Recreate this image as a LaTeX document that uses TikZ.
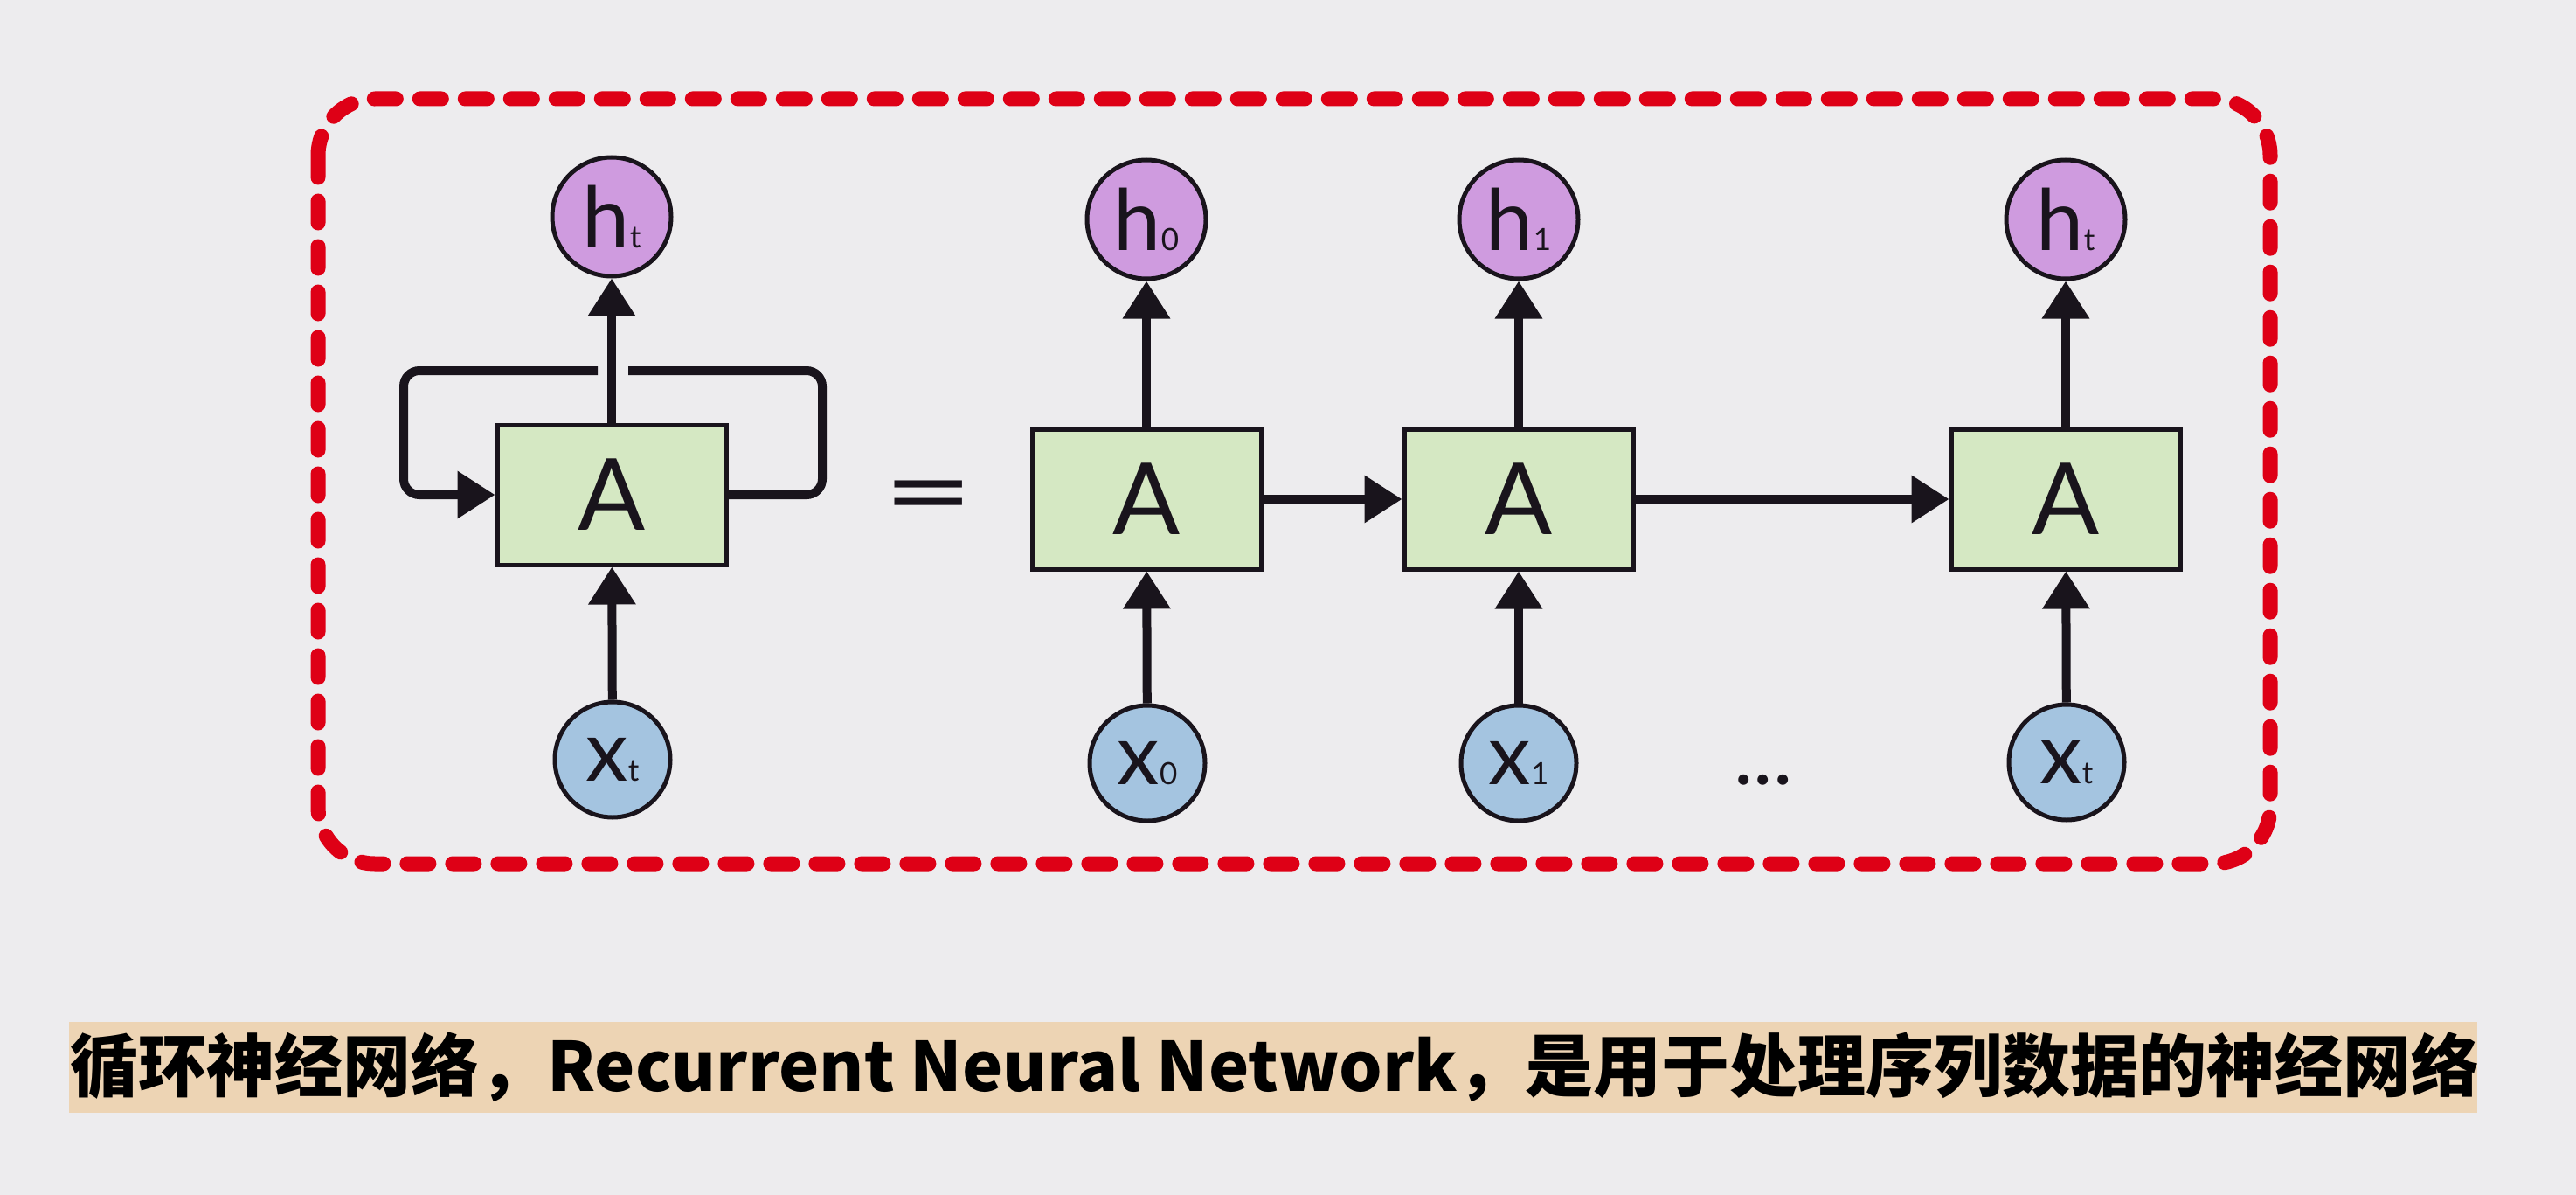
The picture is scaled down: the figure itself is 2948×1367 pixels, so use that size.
\documentclass[tikz,border=0pt]{standalone}
\usepackage{fontspec}
\setmainfont{Lato}
\newfontfamily\cjk{Noto Sans CJK SC}
\usetikzlibrary{arrows.meta,calc}
\definecolor{bgc}{RGB}{237,236,238}
\definecolor{hpurple}{RGB}{207,155,223}
\definecolor{xblue}{RGB}{164,196,224}
\definecolor{agreen}{RGB}{213,232,195}
\definecolor{dashred}{RGB}{222,0,22}
\definecolor{captan}{RGB}{237,212,180}
\definecolor{inkc}{RGB}{25,20,28}
\newcommand\rnnlbl[2]{{\fontsize{97}{97}\selectfont #1}{\fontsize{35}{35}\selectfont #2}}
\begin{document}
\begin{tikzpicture}[x=1pt,y=-1pt,
  hnode/.style={circle,draw=inkc,line width=5pt,fill=hpurple,minimum size=136pt,inner sep=0pt,text=inkc},
  xnode/.style={circle,draw=inkc,line width=5pt,fill=xblue,minimum size=132pt,inner sep=0pt,text=inkc},
  abox/.style={rectangle,draw=inkc,line width=5pt,fill=agreen,minimum width=262pt,minimum height=160pt,inner sep=0pt,text=inkc,font=\fontsize{114}{114}\selectfont},
  arr/.style={draw=inkc,line width=10pt,-{Triangle[length=43pt,width=52pt]}},
  plain/.style={draw=inkc,line width=10pt},
  frame/.style={draw=dashred,line width=17pt,line cap=round,dash pattern=on 25pt off 27pt,rounded corners=65pt}]
\fill[bgc] (0,0) rectangle (2948,1367);
\useasboundingbox (0,0) rectangle (2948,1367);

% dashed frame
\draw[frame] (364,113) rectangle (2598,988);

% folded RNN
\node[abox] (A) at (700,566) {A};
\node[hnode] (h) at (700,248) {\rnnlbl{h}{t}};
\node[xnode] (x) at (701,869) {\rnnlbl{x}{t}};
\draw[arr] (A) -- (h);
\draw[arr] (x) -- (A);
\coordinate (loopL) at (684,424);
\coordinate (loopR) at (719,424);
\draw[arr,rounded corners=18pt] (loopL) -- (462,424) -- (462,566) -- (A.west);
\draw[plain,rounded corners=18pt] (A.east) -- (941,566) -- (941,424) -- (loopR);

% equals
\node[text=inkc,font=\fontsize{120}{120}\selectfont] (eq) at (1063,577) {\scalebox{1.5}[1]{=}};

% unrolled
\node[abox] (A0) at (1312,571) {A};
\node[abox] (A1) at (1738,571) {A};
\node[abox] (At) at (2364,571) {A};
\node[hnode] (h0) at (1312,251) {\rnnlbl{h}{0}};
\node[hnode] (h1) at (1738,251) {\rnnlbl{h}{1}};
\node[hnode] (ht) at (2364,251) {\rnnlbl{h}{t}};
\node[xnode] (x0) at (1313,873) {\rnnlbl{x}{0}};
\node[xnode] (x1) at (1738,873) {\rnnlbl{x}{1}};
\node[xnode] (xt) at (2365,872) {\rnnlbl{x}{t}};
\node[text=inkc,font=\fontsize{95}{95}\selectfont] (dots) at (2018,892) {...};

\foreach \n in {0,1,t}{
  \draw[arr] (A\n) -- (h\n);
  \draw[arr] (x\n) -- (A\n);
}
\draw[arr] (A0) -- (A1);
\draw[arr] (A1) -- (At);

% caption
\fill[captan] (79,1169) rectangle (2835,1273);
\node[font=\cjk\bfseries\fontsize{78}{78}\selectfont,text=black] (cap) at (1459,1221) {循环神经网络，Recurrent Neural Network，是用于处理序列数据的神经网络};
\end{tikzpicture}
\end{document}
